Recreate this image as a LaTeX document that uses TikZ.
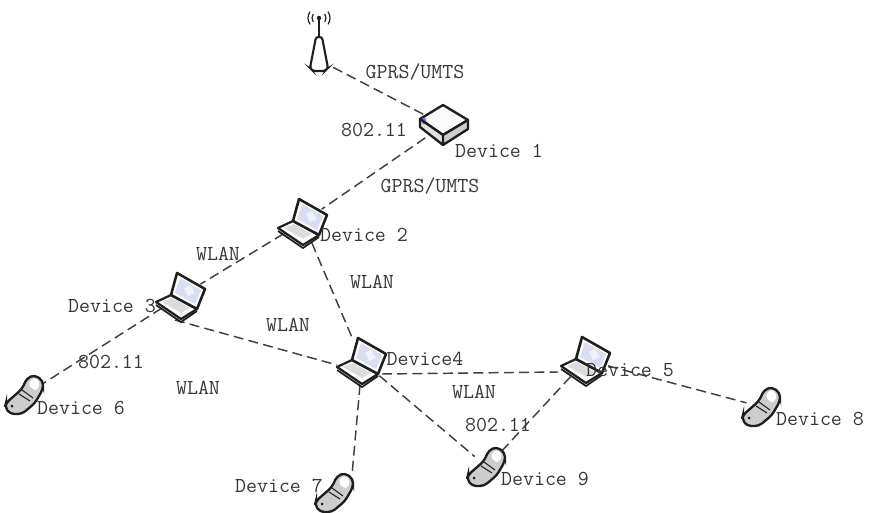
\documentclass[tikz,border=0pt]{standalone}
\usepackage{tikz}
\definecolor{myInk}{RGB}{30,30,30}
\definecolor{myText}{RGB}{55,55,55}
\definecolor{myBody}{RGB}{205,205,205}
\definecolor{myScreen}{RGB}{218,222,242}
\tikzset{
	lbl/.style={font=\ttfamily\fontsize{18.2}{18}\selectfont, text=myText, inner sep=0pt},
	link/.style={draw=myInk!85, line width=1.25pt, dash pattern=on 8.5pt off 4.5pt},
	hub/.style={circle, minimum size=1.35cm, inner sep=0pt},
	tip/.style={circle, minimum size=0.95cm, inner sep=0pt},
	laptop/.pic={
		\draw[myInk, line width=1.9pt, line join=round, fill=white] (-25,6) -- (-10,-1) -- (16,13) -- (0,23) -- cycle;
		\draw[myInk, line width=2.2pt, line join=round, fill=white] (-10,-1) -- (-4,-23) -- (24,-7) -- (16,13) -- cycle;
		\fill[myScreen] (-6,-3) -- (-1,-18) -- (20,-6) -- (14,8) -- cycle;
		\fill[white, opacity=0.6] (3,-8) -- (9,-11) -- (14,-3) -- (7,0) -- cycle;
		\fill[myBody!70] (-19,6) -- (-9,2) -- (9,12) -- (0,17) -- cycle;
		\draw[myInk, line width=1.5pt] (-25,9) -- (0,26) -- (16,15);
	},
	phone/.pic={
		\draw[myInk, line width=2pt, fill=myBody, rounded corners=3.5pt] (-19,8) -- (-3,-6) -- (2,-17) -- (10,-20) -- (18,-14) -- (18,-6) -- (10,8) -- (-3,19) -- (-15,19) -- (-20,12) -- cycle;
		\fill[white, rounded corners=3pt] (3,-11) -- (9,-18) -- (15,-13) -- (13,-5) -- (8,-5) -- cycle;
		\draw[myInk, line width=0.9pt] (-3,-5) -- (8,3) (-6,-1) -- (5,6);
		\fill[myInk] (-13,11) circle (1.5);
	},
	router/.pic={
		\draw[myInk, line width=2pt, line join=round, fill=white!90!myBody] (-24,-6) -- (-1,-20) -- (24,-5) -- (-1,10) -- cycle;
		\fill[blue!55] (-20,-5) circle (2.2);
		\fill[myBody] (-1,10) -- (24,-5) -- (24,4) -- (-1,20) -- cycle;
		\fill[myBody!60] (-24,-6) -- (-1,10) -- (-1,20) -- (-24,2) -- cycle;
		\fill[blue!55] (-20,-3) circle (2.2);
		\draw[myInk, line width=2pt, line join=round] (-24,-6) -- (-24,2) -- (-1,20) -- (24,4) -- (24,-5) (-24,-6) -- (-1,10) -- (24,-5) (-1,10) -- (-1,20);
	},
	antenna/.pic={
		\draw[myInk, line width=1.8pt, fill=white, rounded corners=2pt] (-3,-23) -- (3,-23) -- (9,8) -- (6,11) -- (-6,11) -- (-9,8) -- cycle;
		\draw[myInk, line width=1.8pt] (0,-23) -- (0,-42);
		\fill[myInk] (0,-42) circle (2.2);
		\draw[myInk, line width=1pt] (0,-42) ++(145:7) arc[start angle=145, end angle=215, radius=7] (0,-42) ++(-35:7) arc[start angle=-35, end angle=35, radius=7];
		\draw[myInk, line width=1pt] (0,-42) ++(145:11) arc[start angle=145, end angle=215, radius=11] (0,-42) ++(-35:11) arc[start angle=-35, end angle=35, radius=11];
	}
}
\begin{document}
\begin{tikzpicture}[x=0.03cm, y=-0.03cm]
	\useasboundingbox (0,0) rectangle (869,513);
	% devices
	\node[tip] (ant) at (319,60) {};
	\node[hub] (dev1) at (444,125) {};
	\node[hub] (dev2) at (303,222) {};
	\node[hub] (dev3) at (181,296) {};
	\node[hub] (dev4) at (362,361) {};
	\node[hub] (dev5) at (586,360) {};
	\node[tip] (dev6) at (25,395) {};
	\node[tip] (dev7) at (335,493) {};
	\node[tip] (dev8) at (762,407) {};
	\node[tip] (dev9) at (487,467) {};
	% free ends low on the laptops
	\coordinate (dev3low) at (175,320);
	\coordinate (dev4left) at (337,365);
	\coordinate (dev4right) at (382,374);
	\coordinate (dev4foot) at (360,385);
	\coordinate (dev5left) at (558,372);
	\coordinate (dev7top) at (352,475);
	% links
	\draw[link] (ant) -- (dev1);
	\draw[link] (dev1) -- (dev2);
	\draw[link] (dev2) -- (dev3);
	\draw[link] (dev2) -- (dev4);
	\draw[link] (dev3low) -- (dev4left);
	\draw[link] (dev3) -- (dev6);
	\draw[link] (dev4right) -- (dev5left);
	\draw[link] (dev4foot) -- (dev7top);
	\draw[link] (dev4) -- (dev9);
	\draw[link] (dev5) -- (dev9);
	\draw[link] (dev5) -- (dev8);
	% icons
	\pic at (319,60) {antenna};
	\pic at (dev1) {router};
	\pic at (dev2) {laptop};
	\pic at (dev3) {laptop};
	\pic at (dev4) {laptop};
	\pic at (dev5) {laptop};
	\pic at (dev6) {phone};
	\pic at (dev7) {phone};
	\pic at (dev8) {phone};
	\pic at (dev9) {phone};
	% labels
	\node[lbl] (name1) at (499,151) {Device 1};
	\node[lbl] (name2) at (364,235) {Device 2};
	\node[lbl] (name3) at (112,306) {Device 3};
	\node[lbl] (name4) at (425,359) {Device4};
	\node[lbl] (name5) at (630,370) {Device 5};
	\node[lbl] (name6) at (81,408) {Device 6};
	\node[lbl] (name7) at (279,486) {Device 7};
	\node[lbl] (name8) at (820,419) {Device 8};
	\node[lbl] (name9) at (545,479) {Device 9};
	\node[lbl] (gprsA) at (415,72) {GPRS/UMTS};
	\node[lbl] (gprsB) at (430,186) {GPRS/UMTS};
	\node[lbl] (wifiA) at (374,130) {802.11};
	\node[lbl] (wifiB) at (111,362) {802.11};
	\node[lbl] (wifiC) at (498,425) {802.11};
	\node[lbl] (wlanA) at (218,254) {WLAN};
	\node[lbl] (wlanB) at (372,282) {WLAN};
	\node[lbl] (wlanC) at (288,325) {WLAN};
	\node[lbl] (wlanD) at (198,388) {WLAN};
	\node[lbl] (wlanE) at (474,392) {WLAN};
\end{tikzpicture}
\end{document}
